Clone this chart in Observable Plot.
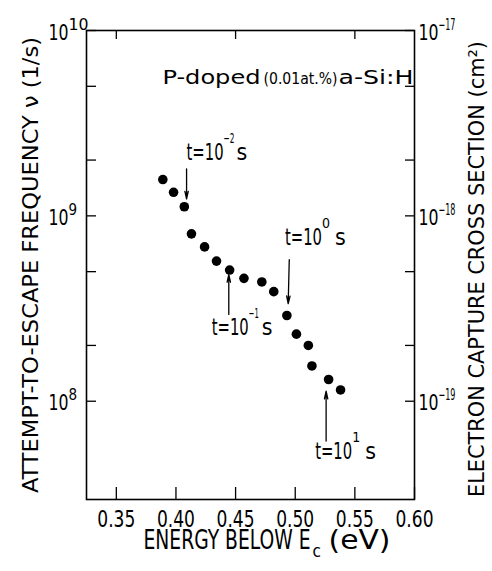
<!DOCTYPE html>
<html>
<head>
<meta charset="utf-8">
<script src="https://cdn.jsdelivr.net/npm/d3@7"></script>
<script src="https://cdn.jsdelivr.net/npm/@observablehq/plot@0.6"></script>
<style>
  html, body { margin: 0; padding: 0; background: white; }
</style>
</head>
<body>
<div id="chart"></div>
<script>
// ---- data ----
const energy = [0.389, 0.398, 0.407, 0.413, 0.424, 0.434, 0.445, 0.457, 0.472, 0.482, 0.493, 0.501, 0.511, 0.514, 0.528, 0.538];
const nu     = [1.57e9, 1.34e9, 1.12e9, 8.0e8, 6.8e8, 5.7e8, 5.1e8, 4.6e8, 4.4e8, 3.9e8, 2.9e8, 2.3e8, 2.0e8, 1.55e8, 1.31e8, 1.15e8];

const xTicks = [0.35, 0.40, 0.45, 0.50, 0.55, 0.60];
const xTopTicks = [0.35, 0.45, 0.55];
const yMajor = [1e8, 1e9, 1e10];
const yMinor = [2e8, 5e8, 2e9, 5e9];
const leftExp = ["8", "9", "10"];
const rightExp = ["−19", "−18", "−17"];

// annotations: t = 10^exp s
const annExp    = ["−2", "0", "−1", "1"];
const annLabelX = [0.4089, 0.4914, 0.4300, 0.5167];
const annLabelY = [2.0e9, 6.98e8, 2.29e8, 4.88e7];
const arrowX1 = [0.4089, 0.4950, 0.4443, 0.5259];
const arrowY1 = [1.79e9, 5.8e8, 2.94e8, 6.1e7];
const arrowX2 = [0.4089, 0.4941, 0.4443, 0.5259];
const arrowY2 = [1.234e9, 3.36e8, 4.82e8, 1.132e8];

const yTitle = "ATTEMPT-TO-ESCAPE FREQUENCY ν (1/s)";
const y2Title = "ELECTRON CAPTURE CROSS SECTION (cm²)";
const xTitleParts = ["ENERGY BELOW E", "c", "(eV)"];
const sampleParts = ["P-doped", "(0.01at.%)", "a-Si:H"];

// ---- build ----
const points = energy.map((e, i) => ({e, nu: nu[i]}));
const ann = annExp.map((exp, i) => ({exp, x: annLabelX[i], y: annLabelY[i]}));
const arrows = arrowX1.map((x1, i) => ({x1, y1: arrowY1[i], x2: arrowX2[i], y2: arrowY2[i]}));
const yAllTicks = [...yMajor, ...yMinor];
const fmt = d3.format(".2f");

const W = 492, H = 571, mL = 86, mR = 78, mT = 30, mB = 72;
const fw = W - mL - mR, fh = H - mT - mB;
const FONT = "'Liberation Sans Narrow', 'DejaVu Sans Condensed', 'Liberation Sans', sans-serif";

const svg = Plot.plot({
  width: W, height: H,
  marginLeft: mL, marginRight: mR, marginTop: mT, marginBottom: mB,
  style: {fontFamily: FONT, background: "white", color: "black"},
  x: {domain: [0.325, 0.60], axis: null},
  y: {type: "log", domain: [2.95e7, 1e10], axis: null},
  marks: [
    Plot.frame({stroke: "black", strokeWidth: 1.6}),
    // inward ticks
    Plot.tickX(xTicks, {x: d => d, stroke: "black", strokeWidth: 1.3, insetTop: fh - 12}),
    Plot.tickX(xTopTicks, {x: d => d, stroke: "black", strokeWidth: 1.3, insetBottom: fh - 9}),
    Plot.tickY(yAllTicks, {y: d => d, stroke: "black", strokeWidth: 1.3, insetRight: fw - 10}),
    Plot.tickY(yAllTicks, {y: d => d, stroke: "black", strokeWidth: 1.3, insetLeft: fw - 9}),
    // x tick labels
    Plot.text(xTicks, {x: d => d, frameAnchor: "bottom", text: d => fmt(d), lineAnchor: "top", dy: 11, fontSize: 23, fill: "black"}),
    // left y labels
    Plot.text(yMajor, {y: d => d, frameAnchor: "left", text: () => "10", textAnchor: "end", lineAnchor: "bottom", dx: -18, dy: 9, fontSize: 22, fill: "black"}),
    Plot.text(yMajor, {y: d => d, frameAnchor: "left", text: (d, i) => leftExp[i], textAnchor: "start", lineAnchor: "bottom", dx: -18, dy: -1, fontSize: 15, fill: "black"}),
    // right y labels (capture cross section)
    Plot.text(yMajor, {y: d => d, frameAnchor: "right", text: () => "10", textAnchor: "start", lineAnchor: "bottom", dx: 4, dy: 9, fontSize: 22, fill: "black"}),
    Plot.text(yMajor, {y: d => d, frameAnchor: "right", text: (d, i) => rightExp[i], textAnchor: "start", lineAnchor: "bottom", dx: 24, dy: -1, fontSize: 15, fill: "black"}),
    // axis titles
    Plot.text([yTitle], {frameAnchor: "left", text: d => d, textAnchor: "middle", lineAnchor: "middle", rotate: -90, dx: -56, fontSize: 22, fill: "black"}),
    Plot.text([y2Title], {frameAnchor: "right", text: d => d, textAnchor: "middle", lineAnchor: "middle", rotate: -90, dx: 62, dy: 4, fontSize: 22, fill: "black"}),
    Plot.text([xTitleParts[0]], {frameAnchor: "bottom", text: d => d, textAnchor: "end", lineAnchor: "bottom", dx: 60, dy: 49, fontSize: 26, fill: "black"}),
    Plot.text([xTitleParts[1]], {frameAnchor: "bottom", text: d => d, textAnchor: "start", lineAnchor: "bottom", dx: 62, dy: 57, fontSize: 17, fill: "black"}),
    Plot.text([xTitleParts[2]], {frameAnchor: "bottom", text: d => d, textAnchor: "start", lineAnchor: "bottom", dx: 78, dy: 49, fontSize: 26, fill: "black"}),
    // sample label
    Plot.text([sampleParts[0]], {frameAnchor: "top-right", text: d => d, textAnchor: "end", lineAnchor: "bottom", dx: -154, dy: 53, fontSize: 19, fill: "black"}),
    Plot.text([sampleParts[1]], {frameAnchor: "top-right", text: d => d, textAnchor: "end", lineAnchor: "bottom", dx: -77, dy: 53, fontSize: 16, fill: "black"}),
    Plot.text([sampleParts[2]], {frameAnchor: "top-right", text: d => d, textAnchor: "end", lineAnchor: "bottom", dx: -1, dy: 53, fontSize: 19, fill: "black"}),
    // data
    Plot.dot(points, {x: "e", y: "nu", r: 4.8, fill: "black", stroke: "none"}),
    // annotations
    Plot.arrow(arrows, {x1: "x1", y1: "y1", x2: "x2", y2: "y2", stroke: "black", strokeWidth: 1.3, headLength: 9, headAngle: 25}),
    Plot.text(ann, {x: "x", y: "y", text: () => "t=10", textAnchor: "start", lineAnchor: "bottom", fontSize: 23, fill: "black"}),
    Plot.text(ann, {x: "x", y: "y", text: "exp", textAnchor: "start", lineAnchor: "bottom", dx: 37, dy: -17, fontSize: 14, fill: "black"}),
    Plot.text(ann, {x: "x", y: "y", text: () => "s", textAnchor: "start", lineAnchor: "bottom", dx: 50, fontSize: 23, fill: "black"})
  ]
});

// squeeze lettering to the widths measured on the reference
function fitText(content, len) {
  d3.select(svg).selectAll("text")
    .filter(function () { return this.textContent === content; })
    .attr("textLength", len).attr("lengthAdjust", "spacingAndGlyphs");
}
fitText(yTitle, 456);
fitText(y2Title, 456);
fitText(xTitleParts[0], 167);
fitText(xTitleParts[2], 62);
fitText(sampleParts[0], 98);
fitText(sampleParts[1], 74);
fitText(sampleParts[2], 75);
xTicks.forEach(d => fitText(fmt(d), 38));
fitText("10", 20);
fitText("t=10", 37);
["−19", "−18", "−17"].forEach(s => fitText(s, 17));
fitText("−2", 11);
fitText("−1", 10);

document.getElementById("chart").appendChild(svg);
</script>
</body>
</html>
